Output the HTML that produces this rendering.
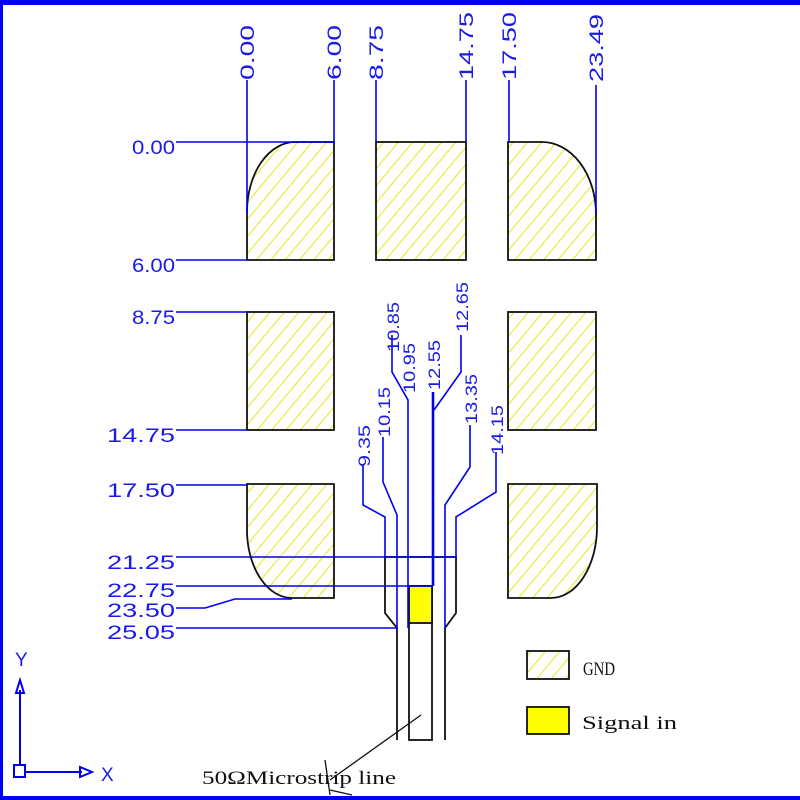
<!DOCTYPE html>
<html><head><meta charset="utf-8"><style>
html,body{margin:0;padding:0;background:#fff;}
svg{display:block;}
.b{stroke:#0000ee;stroke-width:1.6;fill:none;}
.k{stroke:#111;stroke-width:1.8;}
.t{font-family:"Liberation Sans",sans-serif;fill:#1a1aee;font-size:19px;}
.s{font-family:"Liberation Sans",sans-serif;fill:#1a1aee;font-size:17px;}
.m{font-family:"Liberation Serif",serif;fill:#111;font-size:19px;}
</style></head><body>
<svg width="800" height="800" viewBox="0 0 800 800" xmlns="http://www.w3.org/2000/svg">
<defs>
<pattern id="h" patternUnits="userSpaceOnUse" width="11" height="11" patternTransform="rotate(40)">
<rect width="11" height="11" fill="#fff"/>
<line x1="0" y1="0" x2="0" y2="11" stroke="#e6e620" stroke-width="2"/>
</pattern>
</defs>
<rect x="0" y="0" width="800" height="800" fill="#fff"/>
<rect x="0" y="0" width="800" height="5" fill="#0000ee"/>
<rect x="0" y="0" width="3" height="800" fill="#0000ee"/>
<rect x="0" y="796" width="800" height="4" fill="#0000ee"/>

<!-- pads -->
<path class="k" fill="url(#h)" d="M247,212 A48,70 0 0 1 295,142 L334,142 L334,260 L247,260 Z"/>
<rect class="k" fill="url(#h)" x="376" y="142" width="90" height="118"/>
<path class="k" fill="url(#h)" d="M508,142 L542,142 A54,72 0 0 1 596,214 L596,260 L508,260 Z"/>
<rect class="k" fill="url(#h)" x="247" y="312" width="87" height="118"/>
<rect class="k" fill="url(#h)" x="508" y="312" width="88" height="118"/>
<path class="k" fill="url(#h)" d="M247,484 L334,484 L334,598 L292,598 A45,68 0 0 1 247,530 Z"/>
<path class="k" fill="url(#h)" d="M508,484 L597,484 L597,527 A46,71 0 0 1 551,598 L508,598 Z"/>

<!-- signal structure -->
<path class="k" fill="none" d="M397,740 L397,628 L385,613 L385,557 L456,557 L456,613 L445,628 L445,740"/>
<rect class="k" fill="#fff" x="409" y="586" width="23" height="154"/>
<rect class="k" fill="#ffff00" x="409" y="586" width="23" height="37"/>

<!-- top dimension lines -->
<path class="b" d="M247,80 V213 M334,80 V142 M376,80 V142 M466,80 V142 M509,80 V142 M596,85 V214"/>
<g lengthAdjust="spacingAndGlyphs">
<text class="t" transform="translate(254,80) rotate(-90)" textLength="55" lengthAdjust="spacingAndGlyphs">0.00</text>
<text class="t" transform="translate(341,80) rotate(-90)" textLength="55" lengthAdjust="spacingAndGlyphs">6.00</text>
<text class="t" transform="translate(383,80) rotate(-90)" textLength="55" lengthAdjust="spacingAndGlyphs">8.75</text>
<text class="t" transform="translate(473,80) rotate(-90)" textLength="68" lengthAdjust="spacingAndGlyphs">14.75</text>
<text class="t" transform="translate(516,80) rotate(-90)" textLength="68" lengthAdjust="spacingAndGlyphs">17.50</text>
<text class="t" transform="translate(603,82) rotate(-90)" textLength="68" lengthAdjust="spacingAndGlyphs">23.49</text>
</g>

<!-- left dimension lines -->
<path class="b" d="M176,142 H334 M176,260 H247 M176,312 H247 M176,430 H247 M176,485 H247 M176,557 H456 M176,586 H432 M176,608 L205,608 L235,599 L292,599 M176,628 H397"/>
<text class="t" x="132" y="154" textLength="43" lengthAdjust="spacingAndGlyphs">0.00</text>
<text class="t" x="132" y="272" textLength="43" lengthAdjust="spacingAndGlyphs">6.00</text>
<text class="t" x="132" y="324" textLength="43" lengthAdjust="spacingAndGlyphs">8.75</text>
<text class="t" x="107" y="442" textLength="68" lengthAdjust="spacingAndGlyphs">14.75</text>
<text class="t" x="107" y="497" textLength="68" lengthAdjust="spacingAndGlyphs">17.50</text>
<text class="t" x="107" y="569" textLength="68" lengthAdjust="spacingAndGlyphs">21.25</text>
<text class="t" x="107" y="597" textLength="68" lengthAdjust="spacingAndGlyphs">22.75</text>
<text class="t" x="107" y="617" textLength="68" lengthAdjust="spacingAndGlyphs">23.50</text>
<text class="t" x="107" y="639" textLength="68" lengthAdjust="spacingAndGlyphs">25.05</text>

<!-- inner dimension lines -->
<path class="b" d="M392,335 V372 L408,400 V628"/>
<path class="b" d="M461,335 V372 L434,410"/>
<path class="b" d="M433,392 V586" style="stroke-width:2.6"/>
<path class="b" d="M363,465 V505 L385,517 V557"/>
<path class="b" d="M383,437 V482 L397,515 V628"/>
<path class="b" d="M470,425 V467 L445,505 V628"/>
<path class="b" d="M496,452 V492 L456,517 V557"/>
<text class="s" transform="translate(399,352) rotate(-90)" textLength="50" lengthAdjust="spacingAndGlyphs">10.85</text>
<text class="s" transform="translate(415,393) rotate(-90)" textLength="50" lengthAdjust="spacingAndGlyphs">10.95</text>
<text class="s" transform="translate(440,390) rotate(-90)" textLength="50" lengthAdjust="spacingAndGlyphs">12.55</text>
<text class="s" transform="translate(468,332) rotate(-90)" textLength="50" lengthAdjust="spacingAndGlyphs">12.65</text>
<text class="s" transform="translate(370,467) rotate(-90)" textLength="42" lengthAdjust="spacingAndGlyphs">9.35</text>
<text class="s" transform="translate(390,437) rotate(-90)" textLength="50" lengthAdjust="spacingAndGlyphs">10.15</text>
<text class="s" transform="translate(477,424) rotate(-90)" textLength="50" lengthAdjust="spacingAndGlyphs">13.35</text>
<text class="s" transform="translate(503,455) rotate(-90)" textLength="50" lengthAdjust="spacingAndGlyphs">14.15</text>

<!-- microstrip label -->
<path d="M421,715 L330,780 M325,760 L330,795 M330,790 L352,795" stroke="#111" stroke-width="1.3" fill="none"/>
<text class="m" x="202" y="784" textLength="194" lengthAdjust="spacingAndGlyphs">50ΩMicrostrip line</text>

<!-- legend -->
<rect class="k" fill="url(#h)" x="527" y="651" width="42" height="28"/>
<text class="m" x="583" y="675" textLength="32" lengthAdjust="spacingAndGlyphs">GND</text>
<rect class="k" fill="#ffff00" x="527" y="707" width="42" height="27"/>
<text class="m" x="582" y="729" textLength="95" lengthAdjust="spacingAndGlyphs">Signal in</text>

<!-- axis -->
<path class="b" d="M20,765 V690 M25,772 H82" style="stroke-width:2"/>
<rect x="14" y="765" width="11" height="12" fill="none" stroke="#0000ee" stroke-width="2"/>
<path d="M20,680 L16,693 L24,693 Z" fill="none" stroke="#0000ee" stroke-width="2"/>
<path d="M92,772 L80,767 L80,777 Z" fill="none" stroke="#0000ee" stroke-width="2"/>
<text class="t" x="15" y="666" style="font-size:19px">Y</text>
<text class="t" x="101" y="781" style="font-size:19px">X</text>
</svg>
</body></html>
